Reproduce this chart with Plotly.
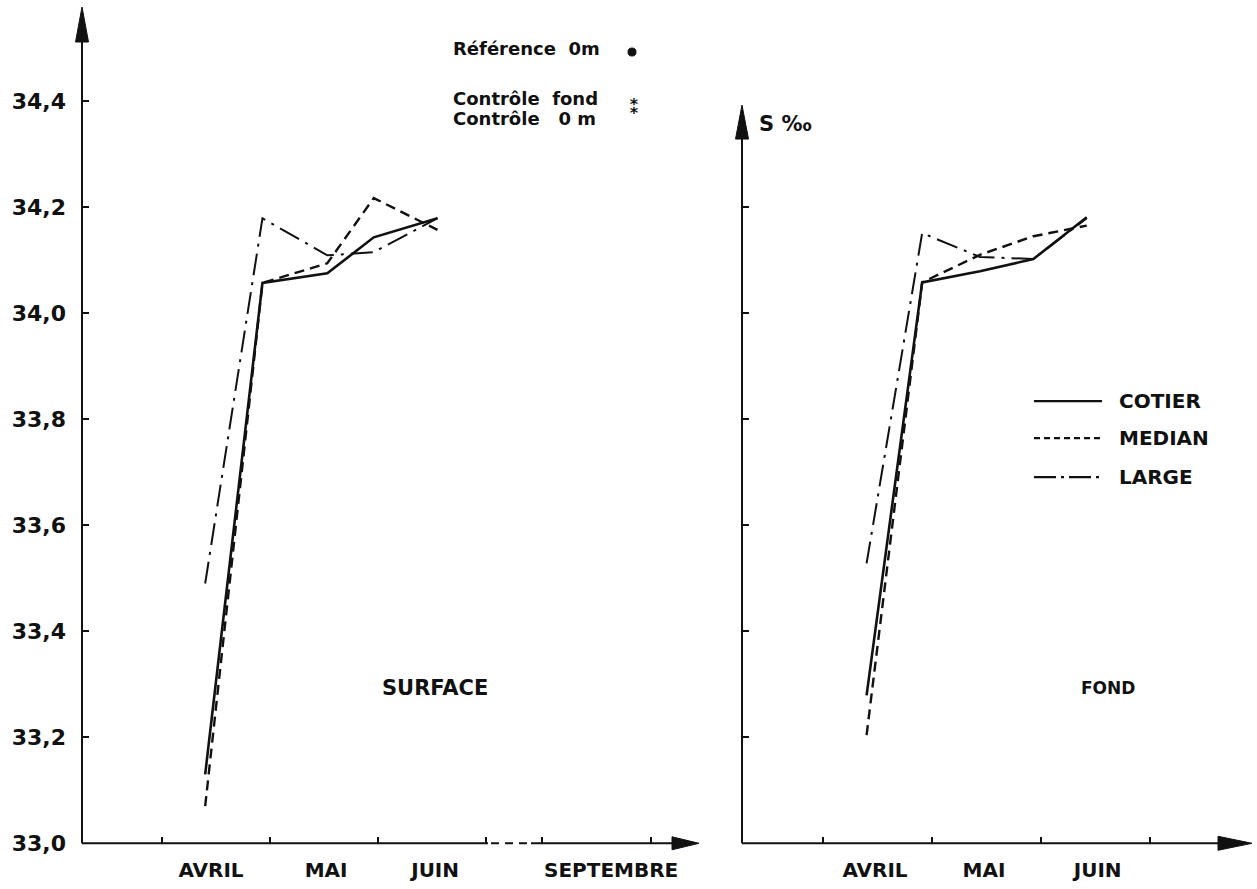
import plotly.graph_objects as go

W, H = 1257, 889

# ---------------- data ----------------
# x in months (1 = start of April, 2 = start of May, ...)
surface_dates = [1.40, 1.93, 2.53, 2.96, 3.55]
fond_dates = [1.40, 1.91, 2.44, 2.93, 3.42]

surface_cotier = [33.13, 34.057, 34.075, 34.143, 34.179]
surface_median = [33.07, 34.057, 34.094, 34.217, 34.157]
surface_large = [33.49, 34.179, 34.109, 34.115, 34.179]

fond_cotier = [33.279, 34.058, 34.079, 34.102, 34.181]
fond_median = [33.204, 34.058, 34.110, 34.145, 34.165]
fond_large = [33.528, 34.151, 34.106, 34.102, 34.179]

series_names = ["COTIER", "MEDIAN", "LARGE"]
y_ticks = [33.0, 33.2, 33.4, 33.6, 33.8, 34.0, 34.2, 34.4]

left_month_labels = ["AVRIL", "MAI", "JUIN", "SEPTEMBRE"]
left_label_pos = [1.454, 2.519, 3.528, 5.157]
left_month_ticks = [1, 2, 3, 4, 4.52, 5.53]
right_month_labels = ["AVRIL", "MAI", "JUIN"]
right_label_pos = [1.477, 2.477, 3.52]
right_month_ticks = [1, 2, 3, 4]

# ---------------- styles ----------------
INK = "#111111"
dash_styles = {"COTIER": "solid", "MEDIAN": "10px,6px", "LARGE": "22px,7px,3px,7px"}
width_styles = {"COTIER": 2.6, "MEDIAN": 2.4, "LARGE": 2.0}
FONT = "DejaVu Sans"
VK = 1.0152  # vertical layout factor


def px(x):
    return x / W


def py(y):
    return 1 - y * VK / H


fig = go.Figure()

for name, ys in zip(series_names, [surface_cotier, surface_median, surface_large]):
    fig.add_trace(go.Scatter(x=surface_dates, y=ys, mode="lines", name=name,
                             line=dict(color=INK, width=width_styles[name], dash=dash_styles[name]),
                             xaxis="x", yaxis="y", showlegend=False))
for name, ys in zip(series_names, [fond_cotier, fond_median, fond_large]):
    fig.add_trace(go.Scatter(x=fond_dates, y=ys, mode="lines", name=name,
                             line=dict(color=INK, width=width_styles[name], dash=dash_styles[name]),
                             xaxis="x2", yaxis="y2", showlegend=False))

axis_common = dict(showgrid=False, zeroline=False, showline=False, fixedrange=True)
month_font = dict(family=FONT, size=20, color=INK, weight="bold")

fig.update_layout(
    width=W, height=H, autosize=False,
    margin=dict(l=0, r=0, t=0, b=0),
    paper_bgcolor="white", plot_bgcolor="white",
    separators=", ",
    showlegend=False,
    xaxis=dict(domain=[px(82), px(699)], range=[0.26, 5.97], anchor="y",
               tickmode="array", tickvals=left_label_pos, ticktext=left_month_labels,
               ticks="", ticklabelstandoff=13, tickfont=month_font,
               minor=dict(tickmode="array", tickvals=left_month_ticks, ticks="inside",
                          ticklen=6, tickwidth=2, tickcolor=INK),
               **axis_common),
    yaxis=dict(domain=[py(843), py(8)], range=[33.0, 34.5755], anchor="x",
               tickmode="array", tickvals=y_ticks, tickformat=".1f",
               ticks="inside", ticklen=7, tickwidth=2, tickcolor=INK,
               ticklabelstandoff=15,
               tickfont=dict(family=FONT, size=22, color=INK, weight="bold"),
               **axis_common),
    xaxis2=dict(domain=[px(742), px(1252)], range=[0.257, 4.936], anchor="y2",
                tickmode="array", tickvals=right_label_pos, ticktext=right_month_labels,
                ticks="", ticklabelstandoff=13, tickfont=month_font,
                minor=dict(tickmode="array", tickvals=right_month_ticks, ticks="inside",
                           ticklen=6, tickwidth=2, tickcolor=INK),
                **axis_common),
    yaxis2=dict(domain=[py(843), py(105)], range=[33.0, 34.3925], anchor="x2",
                tickmode="array", tickvals=y_ticks[1:7],
                ticks="inside", ticklen=7, tickwidth=2, tickcolor=INK,
                showticklabels=False,
                **axis_common),
)

shapes = []


def seg(x0, y0, x1, y1, dash="solid", w=2):
    shapes.append(dict(type="line", xref="paper", yref="paper",
                       x0=px(x0), y0=py(y0), x1=px(x1), y1=py(y1),
                       line=dict(color=INK, width=w, dash=dash)))


def tri(p1, p2, p3):
    path = "M {} {} L {} {} L {} {} Z".format(px(p1[0]), py(p1[1]), px(p2[0]), py(p2[1]),
                                               px(p3[0]), py(p3[1]))
    shapes.append(dict(type="path", xref="paper", yref="paper", path=path,
                       fillcolor=INK, line=dict(color=INK, width=1)))


# left panel axes
seg(82, 843, 82, 40)
tri((82, 7), (75.5, 42), (88.5, 42))
seg(82, 843, 488, 843)
seg(491, 843, 531, 843, dash="8px,6px")
seg(531, 843, 675, 843)
tri((699, 843), (672, 836.5), (672, 849.5))

# right panel axes
seg(742, 843, 742, 136)
tri((742, 105), (735.5, 139), (748.5, 139))
seg(742, 843, 1220, 843)
tri((1252, 843), (1218, 836), (1218, 850))

# legend samples (right panel)
legend_rows = [401, 438, 477]
for name, yy in zip(series_names, legend_rows):
    seg(1034, yy, 1102, yy, dash={"COTIER": "solid", "MEDIAN": "6px,4px",
                                  "LARGE": "22px,5px,3px,5px"}[name], w=2.4)

# top symbol (reference dot)
shapes.append(dict(type="circle", xref="paper", yref="paper",
                   x0=px(628), y0=py(48), x1=px(636), y1=py(56),
                   fillcolor=INK, line=dict(color=INK, width=1)))

fig.update_layout(shapes=shapes)

ann = []


def text(x, y, s, size, anchor="left", bold=True):
    ann.append(dict(xref="paper", yref="paper", x=px(x), y=py(y), text=s,
                    showarrow=False, xanchor=anchor, yanchor="middle",
                    font=dict(family=FONT, size=size, color=INK,
                              weight="bold" if bold else "normal")))


for name, yy in zip(series_names, legend_rows):
    text(1117, yy, name, 20)

text(757, 124, "S ‰", 21)
text(435, 688, "SURFACE", 21, anchor="center")
text(1108, 688, "FOND", 17, anchor="center")
text(451, 48, "Référence  0m", 18)
text(451, 98, "Contrôle  fond", 18)
text(451, 118, "Contrôle   0 m", 18)
text(634, 107, "⁑", 20, anchor="center")

fig.update_layout(annotations=ann)

fig.write_html("out.html",
               config={"displayModeBar": False},
               post_script="document.body.style.margin='0';document.body.style.overflow='hidden';")
